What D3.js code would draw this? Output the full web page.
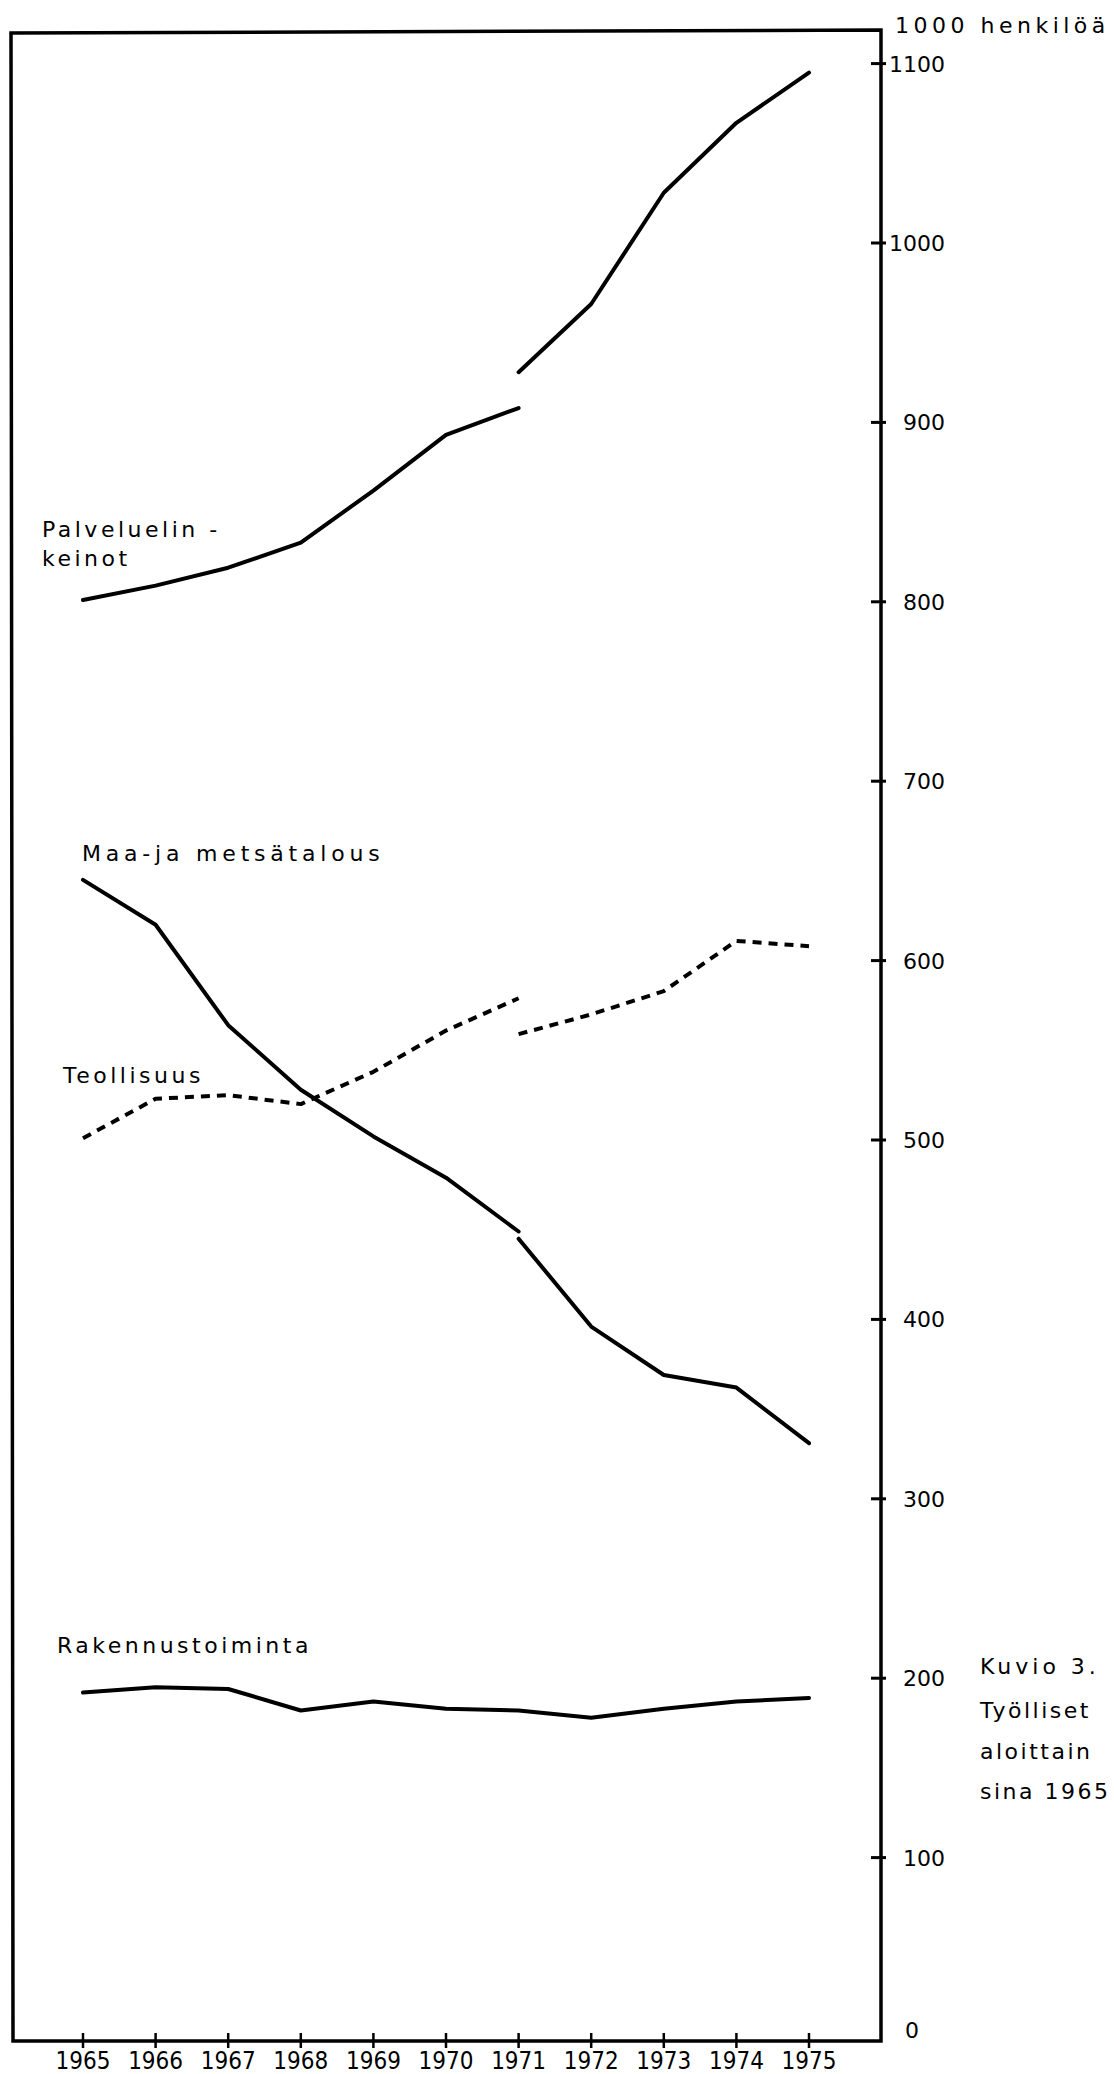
<!DOCTYPE html>
<html>
<head>
<meta charset="utf-8">
<script src="https://cdn.jsdelivr.net/npm/d3@7"></script>
<style>
  body { margin: 0; background: #fff; }
  svg { display: block; }
</style>
</head>
<body>
<div id="chart"></div>
<script>
// years: the series are split at 1971 (new statistics basis)
var yearsA = [1965, 1966, 1967, 1968, 1969, 1970, 1971];
var yearsB = [1971, 1972, 1973, 1974, 1975];
var allYears = [1965, 1966, 1967, 1968, 1969, 1970, 1971, 1972, 1973, 1974, 1975];
var yTicks = [100, 200, 300, 400, 500, 600, 700, 800, 900, 1000, 1100];

// 1000 henkilöä
var palveluA = [801, 809, 819, 833, 862, 893, 908];
var palveluB = [928, 966, 1028, 1067, 1095];
var maaA = [645, 620, 564, 528, 502, 479, 449];
var maaB = [445, 396, 369, 362, 331];
var teollA = [501, 523, 525, 520, 538, 561, 579];
var teollB = [559, 570, 583, 611, 608];
var rakennus = [192, 195, 194, 182, 187, 183, 182, 178, 183, 187, 189];

var W = 1114, H = 2074;
var frameL = 11, frameR = 881, frameT = 30, frameB = 2041;

var svg = d3.select("#chart")
  .append("svg")
  .attr("width", W)
  .attr("height", H);

svg.append("rect").attr("width", W).attr("height", H).attr("fill", "#fff");

var x = d3.scaleLinear().domain([1965, 1975]).range([83, 809]);
var y = d3.scaleLinear().domain([0, 1100]).range([2037, 63.6]);

// frame (right side is the value axis)
svg.append("path")
  .attr("d", "M" + frameR + "," + frameT + "L" + frameL + "," + (frameT + 3) +
             "L" + (frameL + 2) + "," + frameB + "L" + frameR + "," + frameB + "Z")
  .attr("fill", "none")
  .attr("stroke", "#000")
  .attr("stroke-width", 3.5);

// y ticks on the right edge
svg.selectAll(".ytick")
  .data(yTicks)
  .enter()
  .append("line")
  .attr("x1", frameR - 10)
  .attr("x2", frameR + 5)
  .attr("y1", function(d) { return y(d); })
  .attr("y2", function(d) { return y(d); })
  .attr("stroke", "#000")
  .attr("stroke-width", 3);

svg.selectAll(".ylab")
  .data(yTicks)
  .enter()
  .append("text")
  .attr("x", 945)
  .attr("y", function(d) { return y(d) + 8; })
  .attr("text-anchor", "end")
  .attr("font-family", "DejaVu Sans, sans-serif")
  .attr("font-size", 22)
  .text(function(d) { return d; });

svg.append("text")
  .attr("x", 905)
  .attr("y", y(0) + 1)
  .attr("font-family", "DejaVu Sans, sans-serif")
  .attr("font-size", 22)
  .text("0");

svg.append("text")
  .attr("x", 895)
  .attr("y", 33)
  .attr("font-family", "DejaVu Sans, sans-serif")
  .attr("font-size", 22)
  .attr("letter-spacing", 4.5)
  .text("1000 henkilöä");

// x ticks
svg.selectAll(".xtick")
  .data(allYears)
  .enter()
  .append("line")
  .attr("x1", function(d) { return x(d); })
  .attr("x2", function(d) { return x(d); })
  .attr("y1", frameB - 8)
  .attr("y2", frameB + 7)
  .attr("stroke", "#000")
  .attr("stroke-width", 2.5);

svg.selectAll(".xlab")
  .data(allYears)
  .enter()
  .append("text")
  .attr("x", function(d) { return x(d); })
  .attr("y", 2069)
  .attr("text-anchor", "middle")
  .attr("font-family", "'Liberation Sans Narrow', 'DejaVu Sans Condensed', sans-serif")
  .attr("font-size", 24)
  .text(function(d) { return d; });

// lines
var line = d3.line()
  .x(function(d) { return x(d[0]); })
  .y(function(d) { return y(d[1]); });

function draw(years, vals, dashed) {
  svg.append("path")
    .datum(d3.zip(years, vals))
    .attr("d", line)
    .attr("fill", "none")
    .attr("stroke", "#000")
    .attr("stroke-width", 4)
    .attr("stroke-linejoin", "round")
    .attr("stroke-linecap", dashed ? "butt" : "round")
    .attr("stroke-dasharray", dashed ? "9,7" : null);
}

draw(yearsA, palveluA, false);
draw(yearsB, palveluB, false);
draw(yearsA, maaA, false);
draw(yearsB, maaB, false);
draw(yearsA, teollA, true);
draw(yearsB, teollB, true);
draw(allYears, rakennus, false);

// series labels
var labels = [
  { t: "Palveluelin -", x: 42, y: 537, ls: 3.5 },
  { t: "keinot", x: 42, y: 566, ls: 3.5 },
  { t: "Maa-ja metsätalous", x: 82, y: 861, ls: 4.8 },
  { t: "Teollisuus", x: 63, y: 1083, ls: 3.5 },
  { t: "Rakennustoiminta", x: 57, y: 1653, ls: 3.5 }
];
svg.selectAll(".slab")
  .data(labels)
  .enter()
  .append("text")
  .attr("x", function(d) { return d.x; })
  .attr("y", function(d) { return d.y; })
  .attr("font-family", "DejaVu Sans, sans-serif")
  .attr("font-size", 22)
  .attr("letter-spacing", function(d) { return d.ls; })
  .text(function(d) { return d.t; });

// caption, as far as it is visible on the page
var caption = ["Kuvio 3.", "Työlliset", "aloittain", "sina 1965"];
svg.selectAll(".cap")
  .data(caption)
  .enter()
  .append("text")
  .attr("x", 980)
  .attr("y", function(d, i) { return [1674, 1718, 1759, 1799][i]; })
  .attr("font-family", "DejaVu Sans, sans-serif")
  .attr("font-size", 22)
  .attr("letter-spacing", function(d, i) { return i === 0 ? 4 : 2.5; })
  .text(function(d) { return d; });
</script>
</body>
</html>
